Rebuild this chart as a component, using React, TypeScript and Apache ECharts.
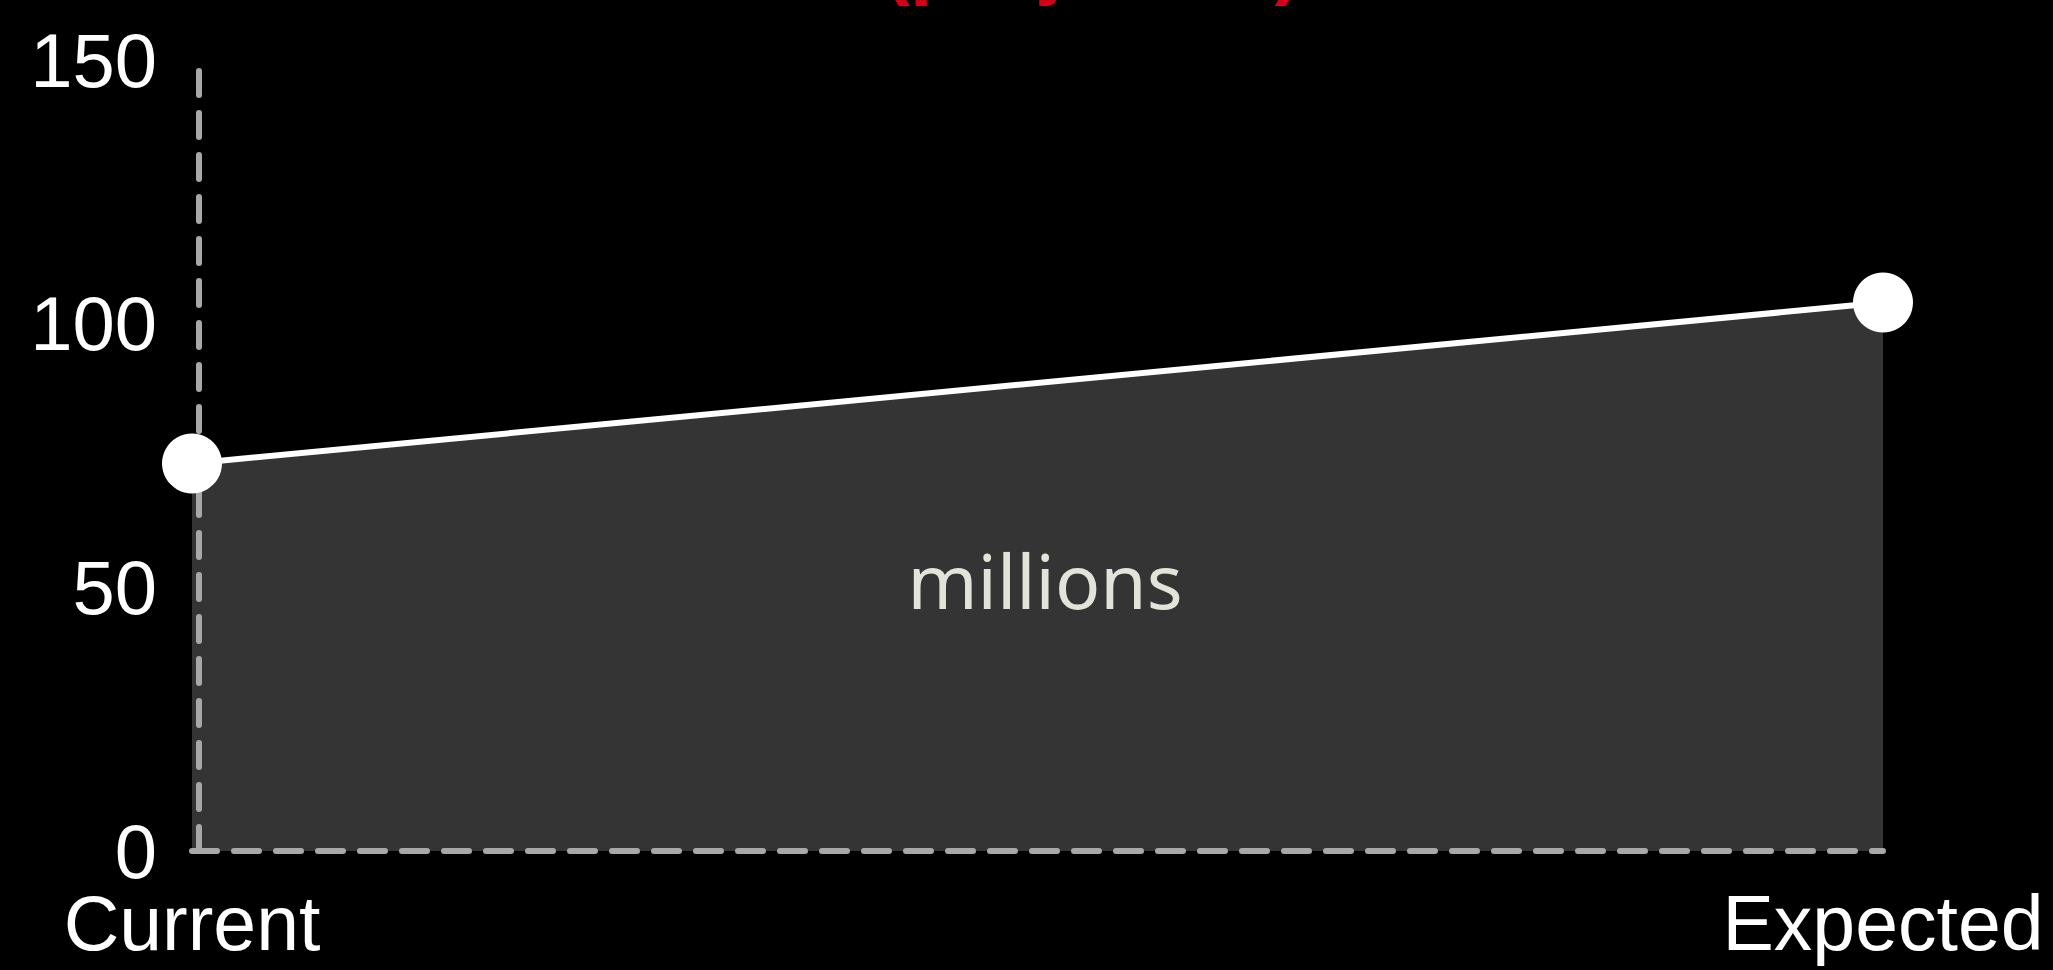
import React, { useEffect, useRef } from "react";
import * as echarts from "echarts";

const categories = ["Current", "Expected"];
const values = [73.5, 104];
const yTicks = [0, 50, 100, 150];
const unitLabel = "millions";
const titleText = "(projected)";

export default function App() {
  const ref = useRef<HTMLDivElement>(null);
  useEffect(() => {
    if (!ref.current) return;
    const chart = echarts.init(ref.current, undefined, { renderer: "svg" });
    chart.setOption({
      animation: false,
      backgroundColor: "#000000",
      grid: { left: 192, right: 170, top: 60, bottom: 119 },
      xAxis: {
        type: "category",
        data: categories,
        boundaryGap: false,
        z: 3,
        axisLine: { lineStyle: { color: "#a8a8a8", width: 6, type: [25, 17] } },
        axisTick: { show: false },
        axisLabel: { color: "#ffffff", fontSize: 77, fontFamily: "Liberation Sans", margin: 33 },
        splitLine: { show: false },
      },
      yAxis: {
        type: "value",
        min: yTicks[0],
        max: yTicks[yTicks.length - 1],
        interval: 50,
        offset: -7,
        z: 3,
        axisLine: { show: true, lineStyle: { color: "#a8a8a8", width: 6, type: [24, 18] } },
        axisTick: { show: false },
        axisLabel: { color: "#ffffff", fontSize: 76, fontFamily: "Liberation Sans", margin: 42 },
        splitLine: { show: false },
      },
      graphic: [
        {
          type: "text",
          left: 883,
          top: -80,
          style: {
            text: titleText,
            fill: "#d0021b",
            font: "bold 81px 'Liberation Sans'",
          },
        },
        {
          type: "text",
          x: 1045,
          y: 580,
          z: 5,
          style: {
            text: unitLabel,
            fill: "#e3e3da",
            fontSize: 75,
            fontFamily: "Noto Sans",
            align: "center",
            verticalAlign: "middle",
          },
        },
      ],
      series: [
        {
          type: "line",
          data: values,
          z: 2,
          showSymbol: false,
          lineStyle: { color: "#ffffff", width: 6 },
          areaStyle: { color: "#343434", opacity: 1 },
        },
        {
          type: "scatter",
          data: values,
          z: 4,
          symbol: "circle",
          symbolSize: 60,
          itemStyle: { color: "#ffffff", opacity: 1 },
        },
      ],
    });
    return () => chart.dispose();
  }, []);
  return (
    <div
      ref={ref}
      style={{ position: "fixed", left: 0, top: 0, width: 2053, height: 970 }}
    />
  );
}
